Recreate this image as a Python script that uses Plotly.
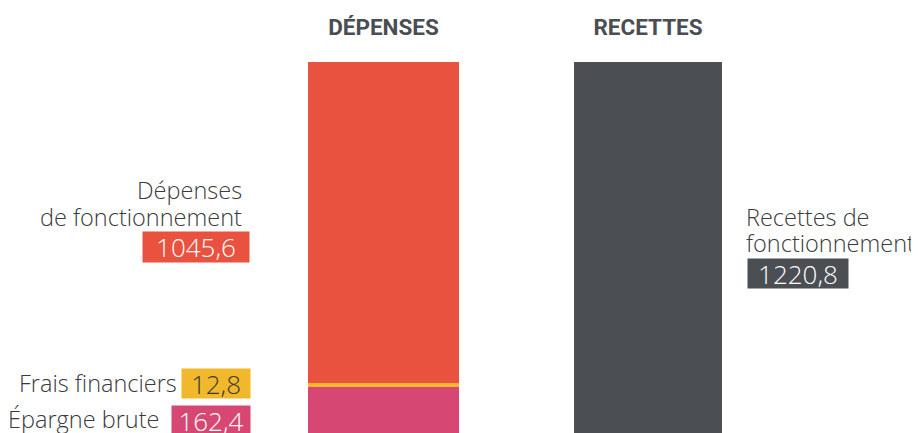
import plotly.graph_objects as go

# ---- data ----
categories = ["DÉPENSES", "RECETTES"]
depenses_labels = ["Épargne brute", "Frais financiers", "Dépenses de fonctionnement"]
depenses_values = [162.4, 12.8, 1045.6]
recettes_labels = ["Recettes de fonctionnement"]
recettes_values = [1220.8]

# ---- styles ----
dep_colors = ["#d64873", "#f0b82a", "#e8523f"]
rec_color = "#4b4e53"
text_color = "#3a3a3a"
OFF = 8                      # page body margin offset
W, H = 919 - OFF, 433 - OFF
MT = 50
LABEL_FONT = "Open Sans"


def fmt(v):
    return f"{v:.1f}".replace(".", ",")


fig = go.Figure()
for lab, val, col in zip(depenses_labels, depenses_values, dep_colors):
    fig.add_trace(go.Bar(x=[0], y=[val], name=lab, marker=dict(color=col, line=dict(width=0)),
                         width=0.571, hoverinfo="name+y"))
for lab, val in zip(recettes_labels, recettes_values):
    fig.add_trace(go.Bar(x=[1], y=[val], name=lab, marker=dict(color=rec_color, line=dict(width=0)),
                         width=0.56, hoverinfo="name+y"))


def px(x):
    return (x - OFF) / W


def py(y):
    return 1 - ((y - OFF) - MT) / (H - MT)


anns = []


def label(text, x, y, anchor, size=23.5, color=text_color, bg=None, w=None, h=None):
    d = dict(text=text, x=px(x), y=py(y), xref="paper", yref="paper", xanchor=anchor,
             yanchor="middle", showarrow=False,
             font=dict(family=LABEL_FONT, size=size, color=color, weight=300))
    if bg:
        d.update(bgcolor=bg, borderpad=0, width=w, height=h, align="center", valign="middle")
    anns.append(d)


NUM = 26
# left side labels (Dépenses)
label("Dépenses", 244, 190, "right")
label("de fonctionnement", 244, 217, "right")
label(fmt(depenses_values[2]), 250, 247, "right", size=NUM, color="white", bg=dep_colors[2], w=106, h=30)
label("Frais financiers", 179, 383, "right")
label(fmt(depenses_values[1]), 251, 383, "right", size=NUM, color=text_color, bg=dep_colors[1], w=68, h=29)
label("Épargne brute", 161, 419, "right")
label(fmt(depenses_values[0]), 251, 420, "right", size=NUM, color="white", bg=dep_colors[0], w=78, h=29)
# right side labels (Recettes)
label("Recettes de", 744, 217, "left")
label("fonctionnement", 744, 243, "left")
label(fmt(recettes_values[0]), 747, 273.5, "left", size=NUM, color="white", bg=rec_color, w=100, h=29)

# x scale: bar centres at screen 383.5 and 648
cx0 = 383.5 - OFF
step = 648 - 383.5
# y scale: bar top screen 62 -> 1220.8 ; bar bottom screen 437 -> 0
upp = 1220.8 / (437 - 62)
ybot = 437 - OFF
y_lo = (ybot - H) * upp
y_hi = (ybot - MT) * upp

fig.update_layout(
    width=W, height=H,
    margin=dict(l=0, r=0, t=MT, b=0),
    barmode="stack",
    bargap=0,
    showlegend=False,
    paper_bgcolor="white",
    plot_bgcolor="white",
    annotations=anns,
    xaxis=dict(range=[-cx0 / step, (W - cx0) / step], side="top", tickvals=[0, 1], ticktext=categories,
               ticks="outside", ticklen=13, tickcolor="rgba(0,0,0,0)",
               tickfont=dict(family="Roboto", size=22.5, color="#4a4d52", weight=700),
               showgrid=False, zeroline=False, showline=False, fixedrange=True),
    yaxis=dict(range=[y_lo, y_hi], visible=False, showgrid=False, zeroline=False, fixedrange=True),
)

fig.write_html("out.html")
